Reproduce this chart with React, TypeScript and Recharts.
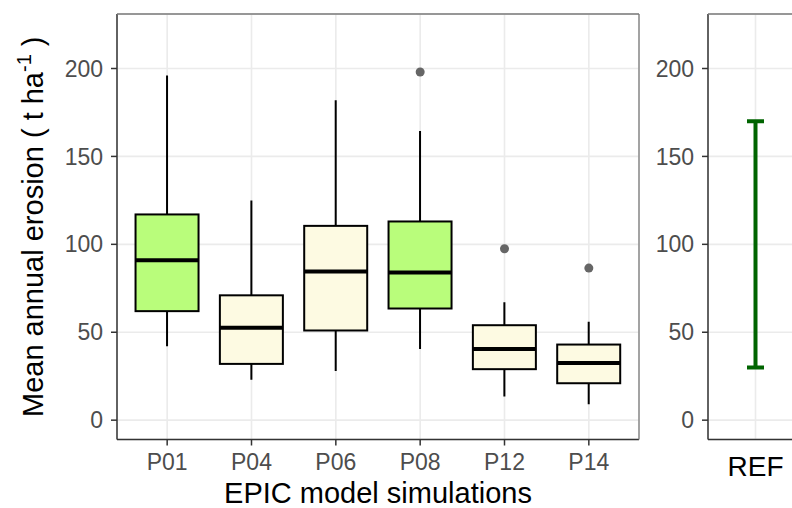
import {
  ComposedChart,
  Bar,
  Scatter,
  XAxis,
  YAxis,
  CartesianGrid,
  Label,
} from 'recharts';

// Simulated erosion, five-number summaries per EPIC run (t/ha)
const simulations = ['P01', 'P04', 'P06', 'P08', 'P12', 'P14'];
const whiskerLow = [42, 23, 28, 40.5, 13.5, 9];
const lowerQuartile = [62, 32, 51, 63.5, 29, 21];
const medians = [91, 52.5, 84.5, 84, 40.5, 32.5];
const upperQuartile = [117, 71, 110.5, 113, 54, 43];
const whiskerHigh = [196, 125, 182, 164.5, 67, 56];
const outliers = [null, null, null, 198, 97.5, 86.5];
const highlighted = [true, false, false, true, false, false];

// Measured reference range
const refLabels = ['REF'];
const refLow = [30];
const refHigh = [170];

const yTicks = [0, 50, 100, 150, 200];
const minorTicks = [25, 75, 125, 175, 225];
const Y_DOMAIN: [number, number] = [-11, 231];

const FONT = '"Liberation Sans", Arial, sans-serif';
const GREEN = '#b9fd7b';
const CREAM = '#fdfae2';
const GRID = '#ebebeb';
const AXIS = '#333333';
const BORDER = '#7a7a7a';
const TICK_TEXT = '#4d4d4d';

const boxData = simulations.map((name, i) => ({
  name,
  low: whiskerLow[i],
  q1: lowerQuartile[i],
  median: medians[i],
  q3: upperQuartile[i],
  high: whiskerHigh[i],
  outlier: outliers[i],
  highlighted: highlighted[i],
}));

const refData = refLabels.map((name, i) => ({
  name,
  low: refLow[i],
  high: refHigh[i],
}));

// Box + whiskers, drawn inside the [low, high] span the Bar gives us
function BoxShape(props: any) {
  const { x, y, width, height, payload } = props;
  const top = Math.min(y, y + height);
  const h = Math.abs(height);
  const ppu = h / (payload.high - payload.low);
  const yOf = (v: number) => top + (payload.high - v) * ppu;
  const cx = x + width / 2;
  const fill = payload.highlighted ? GREEN : CREAM;
  return (
    <g>
      <line x1={cx} x2={cx} y1={yOf(payload.high)} y2={yOf(payload.q3)} stroke="#000" strokeWidth={2} />
      <line x1={cx} x2={cx} y1={yOf(payload.q1)} y2={yOf(payload.low)} stroke="#000" strokeWidth={2} />
      <rect
        x={x}
        y={yOf(payload.q3)}
        width={width}
        height={yOf(payload.q1) - yOf(payload.q3)}
        fill={fill}
        stroke="#000"
        strokeWidth={2}
      />
      <line x1={x} x2={x + width} y1={yOf(payload.median)} y2={yOf(payload.median)} stroke="#000" strokeWidth={4} />
    </g>
  );
}

function OutlierShape(props: any) {
  const { cx, cy, payload } = props;
  if (payload == null || payload.outlier == null || !Number.isFinite(cy)) return <g />;
  return <circle cx={cx} cy={cy} r={4.5} fill="#666666" />;
}

function RangeShape(props: any) {
  const { x, y, width, height } = props;
  const top = Math.min(y, y + height);
  const bottom = top + Math.abs(height);
  const cx = x + width / 2;
  const c = '#006400';
  return (
    <g>
      <line x1={cx} x2={cx} y1={top} y2={bottom} stroke={c} strokeWidth={4} />
      <line x1={x} x2={x + width} y1={top} y2={top} stroke={c} strokeWidth={4} />
      <line x1={x} x2={x + width} y1={bottom} y2={bottom} stroke={c} strokeWidth={4} />
    </g>
  );
}

function YTitle(props: any) {
  const { viewBox } = props;
  const cy = viewBox.y + viewBox.height / 2;
  return (
    <text
      x={43}
      y={cy}
      transform={`rotate(-90, 43, ${cy})`}
      textAnchor="middle"
      fontFamily={FONT}
      fontSize={29}
      fill="#000"
    >
      Mean annual erosion ( t ha
      <tspan fontSize={20} dy={-12}>-1</tspan>
      <tspan dy={12}> )</tspan>
    </text>
  );
}

function XTitle(props: any) {
  const { viewBox } = props;
  return (
    <text
      x={viewBox.x + viewBox.width / 2}
      y={503}
      textAnchor="middle"
      fontFamily={FONT}
      fontSize={29}
      fill="#000"
    >
      EPIC model simulations
    </text>
  );
}

const tickStyle = { fontFamily: FONT, fontSize: 23, fill: TICK_TEXT };

// invisible axis that only carries the minor grid positions
function MinorAxis() {
  return (
    <YAxis
      yAxisId="minor"
      type="number"
      domain={Y_DOMAIN}
      ticks={minorTicks}
      allowDataOverflow
      width={0}
      tick={false}
      tickLine={false}
      axisLine={false}
    />
  );
}

export default function App() {
  return (
    <div
      style={{
        position: 'fixed',
        left: 0,
        top: 0,
        width: 792,
        height: 508,
        overflow: 'hidden',
        background: '#fff',
      }}
    >
      <div style={{ position: 'absolute', left: 0, top: 0 }}>
        <ComposedChart
          width={650}
          height={508}
          data={boxData}
          margin={{ top: 14, right: 11, bottom: 0, left: 0 }}
          barCategoryGap="12.5%"
        >
          <CartesianGrid stroke={GRID} strokeWidth={1} vertical={false} yAxisId="minor" />
          <CartesianGrid stroke={GRID} strokeWidth={1.6} />
          <XAxis
            dataKey="name"
            type="category"
            padding={{ left: 8, right: 8 }}
            height={68.5}
            tick={tickStyle}
            tickSize={6}
            tickMargin={8}
            tickLine={{ stroke: AXIS, strokeWidth: 1.5 }}
            axisLine={{ stroke: AXIS, strokeWidth: 1.5 }}
          >
            <Label content={XTitle} />
          </XAxis>
          <YAxis
            type="number"
            domain={Y_DOMAIN}
            ticks={yTicks}
            allowDataOverflow
            width={117}
            tick={tickStyle}
            tickSize={6}
            tickMargin={8}
            tickLine={{ stroke: AXIS, strokeWidth: 1.5 }}
            axisLine={{ stroke: AXIS, strokeWidth: 1.5 }}
          >
            <Label content={YTitle} />
          </YAxis>
          {MinorAxis()}
          <Bar
            dataKey={(d: any) => [d.low, d.high]}
            shape={BoxShape}
            isAnimationActive={false}
          />
          <Scatter dataKey="outlier" shape={OutlierShape} isAnimationActive={false} />
        </ComposedChart>
        <svg
          width={650}
          height={508}
          style={{ position: 'absolute', left: 0, top: 0, pointerEvents: 'none' }}
        >
          <line x1={117} x2={639} y1={14} y2={14} stroke={BORDER} strokeWidth={1.3} />
          <line x1={639} x2={639} y1={14} y2={439.5} stroke={BORDER} strokeWidth={1.3} />
        </svg>
      </div>

      <div style={{ position: 'absolute', left: 640, top: 0 }}>
        <ComposedChart
          width={163}
          height={508}
          data={refData}
          margin={{ top: 14, right: 0, bottom: 0, left: 0 }}
          barSize={17}
        >
          <CartesianGrid stroke={GRID} strokeWidth={1} vertical={false} yAxisId="minor" />
          <CartesianGrid stroke={GRID} strokeWidth={1.6} />
          <XAxis
            dataKey="name"
            type="category"
            height={68.5}
            tick={{ fontFamily: FONT, fontSize: 28, fill: '#000' }}
            tickSize={6}
            tickMargin={11}
            tickLine={{ stroke: 'transparent' }}
            axisLine={{ stroke: AXIS, strokeWidth: 1.5 }}
          />
          <YAxis
            type="number"
            domain={Y_DOMAIN}
            ticks={yTicks}
            allowDataOverflow
            width={68}
            tick={tickStyle}
            tickSize={6}
            tickMargin={8}
            tickLine={{ stroke: AXIS, strokeWidth: 1.5 }}
            axisLine={{ stroke: AXIS, strokeWidth: 1.5 }}
          />
          {MinorAxis()}
          <Bar
            dataKey={(d: any) => [d.low, d.high]}
            shape={RangeShape}
            isAnimationActive={false}
          />
        </ComposedChart>
        <svg
          width={163}
          height={508}
          style={{ position: 'absolute', left: 0, top: 0, pointerEvents: 'none' }}
        >
          <line x1={68} x2={163} y1={14} y2={14} stroke={BORDER} strokeWidth={1.3} />
        </svg>
      </div>
    </div>
  );
}
